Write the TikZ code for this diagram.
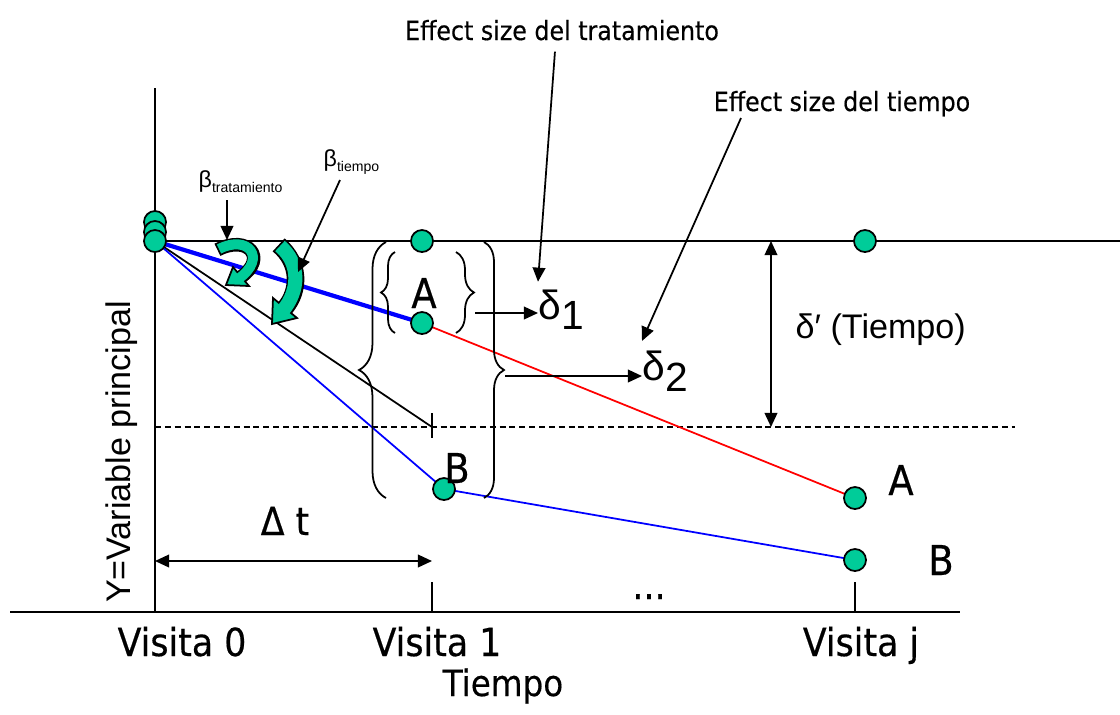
\documentclass[tikz,border=0pt]{standalone}
\usepackage{fontspec}
\setmainfont{DejaVu Sans}[FakeStretch=0.9,FakeBold=0.4]
\newfontfamily\arialfont{Liberation Sans}
\usetikzlibrary{arrows.meta,decorations.pathreplacing}
\definecolor{dotgreen}{RGB}{0,204,153}
\definecolor{lineblue}{RGB}{0,0,255}

\begin{document}
\begin{tikzpicture}[x=0.01cm,y=-0.01cm,>={Triangle[length=4pt,width=3.6pt]},
  dot/.style={circle,draw,line width=0.5pt,fill=dotgreen,inner sep=0pt,minimum size=0.22cm},
  txt/.style={inner sep=0pt,font=\fontsize{11}{13}\selectfont},
  letra/.style={inner sep=0pt,font=\fontsize{11.7}{14}\selectfont},
  nota/.style={inner sep=0pt,font=\fontsize{7.5}{9}\selectfont},
  ari/.style={inner sep=0pt,font=\arialfont\fontsize{9.7}{12}\selectfont},
  griega/.style={inner sep=0pt,font=\arialfont\fontsize{11.6}{13}\selectfont},
  llave/.style={decorate,decoration={brace,amplitude=#1},line width=0.5pt}]
\useasboundingbox (0,0) rectangle (1120,714);

% puntos
\coordinate (o) at (155,241);
\coordinate (o2) at (155,232);
\coordinate (o3) at (155,222);
\coordinate (t1) at (422,241);
\coordinate (tj) at (865,241);
\coordinate (a1) at (422,323);
\coordinate (b1) at (444,489);
\coordinate (aj) at (855,498);
\coordinate (bj) at (855,560);
\coordinate (m1) at (432,427);

% ejes
\draw[line width=0.5pt] (155,88) -- (155,612);
\draw[line width=0.5pt] (10,612) -- (960,612);
\draw[line width=0.5pt] (o) -- (1120,241);
\draw[line width=0.5pt,dash pattern=on 1.7pt off 1.1pt] (155,427) -- (1015,427);
\draw[line width=0.5pt] (432,582) -- (432,612);
\draw[line width=0.5pt] (855,582) -- (855,612);

% trayectorias
\draw[line width=0.5pt] (o) -- (m1);
\draw[line width=0.5pt] (432,413) -- (432,438);
\draw[lineblue,line width=0.5pt] (o) -- (b1) -- (bj);
\draw[red,line width=0.5pt] (a1) -- (aj);
\draw[lineblue,line width=1.2pt] (o) -- (a1);

% llaves
\draw[llave=0.27cm] (386,498) -- (386,242);
\draw[llave=0.2cm] (484,242) -- (484,498);
\draw[llave=0.14cm] (395,333) -- (395,252);
\draw[llave=0.18cm] (456,252) -- (456,333);

% flechas curvas
\draw[line width=3.85pt,shorten <=-0.5pt] (219,249) .. controls (248,234) and (268,258) .. (241,277);
\filldraw[fill=dotgreen,line width=0.5pt] (249,286) -- (226,285) -- (233,267) -- cycle;
\draw[dotgreen,line width=2.85pt,shorten >=-1pt] (219,249) .. controls (248,234) and (268,258) .. (241,277);
\draw[line width=5pt,shorten <=-0.5pt] (280,246) .. controls (300,263) and (300,290) .. (285,308);
\filldraw[fill=dotgreen,line width=0.5pt] (297,318) -- (272,324) -- (273,298) -- cycle;
\draw[dotgreen,line width=4pt,shorten >=-1pt] (280,246) .. controls (300,263) and (300,290) .. (285,308);

% nodos
\node[dot] at (o3) {};
\node[dot] at (o2) {};
\node[dot] (n0) at (o) {};
\node[dot] (n1) at (t1) {};
\node[dot] (nj) at (tj) {};
\node[dot] (na1) at (a1) {};
\node[dot] (nb1) at (b1) {};
\node[dot] (naj) at (aj) {};
\node[dot] (nbj) at (bj) {};

% textos
\node[txt,anchor=base] (v0) at (182,656) {Visita 0};
\node[txt,anchor=base] (v1) at (437,656) {Visita 1};
\node[txt,anchor=base] (vj) at (861,656) {Visita j};
\node[inner sep=0pt,font=\fontsize{10.3}{12}\selectfont,anchor=base] (tiempo) at (503,696) {Tiempo};
\node[txt,anchor=base] (dt) at (285,535) {Δ t};
\node[txt,anchor=base] (pts) at (649,599) {...};
\node[letra,anchor=base] (la1) at (424,308) {A};
\node[letra,anchor=base] (lb1) at (457,483) {B};
\node[letra,anchor=base] (laj) at (901,495) {A};
\node[letra,anchor=base] (lbj) at (941,575) {B};
\node[ari,rotate=90] (ylab) at (122,452) {Y=Variable principal};
\node[ari,anchor=base west] (dp) at (795,338) {δ′ (Tiempo)};
\node[griega,anchor=base west] (d1) at (538,319) {δ\raisebox{-3pt}{1}};
\node[griega,anchor=base west] (d2) at (642,380) {δ\raisebox{-3.4pt}{2}};
\node[nota,anchor=base] (es1) at (562,40) {Effect size del tratamiento};
\node[nota,anchor=base] (es2) at (842,111) {Effect size del tiempo};
\node[inner sep=0pt,anchor=base west] (btr) at (198,187) {\arialfont\fontsize{6.6}{8}\selectfont β\raisebox{-1.5pt}{\fontsize{4}{5}\selectfont tratamiento}};
\node[inner sep=0pt,anchor=base west] (bti) at (323,166) {\arialfont\fontsize{6.6}{8}\selectfont β\raisebox{-1.5pt}{\fontsize{4}{5}\selectfont tiempo}};

% flechas
\coordinate (dtl) at (155,561);
\coordinate (dtr) at (432,561);
\draw[<->,line width=0.5pt] (dtl) -- (dtr);
\draw[<->,line width=0.5pt] (771,241) -- (771,427);
\coordinate (c1) at (475,313);
\coordinate (c2) at (505,376);
\draw[->,line width=0.5pt] (c1) -- (d1.west |- c1);
\draw[->,line width=0.5pt] (c2) -- (d2.west |- c2);
\draw[->,line width=0.5pt] ([xshift=-2pt,yshift=-3pt]es1.south) -- ([yshift=2pt]d1.north west);
\coordinate (c3) at (741,118);
\draw[->,line width=0.5pt] (c3) -- ([yshift=2.5pt]d2.north west);
\draw[->,line width=0.5pt] (227,200) -- (227,240);
\draw[->,line width=0.5pt] (340,180) -- (298,272);
\end{tikzpicture}
\end{document}
